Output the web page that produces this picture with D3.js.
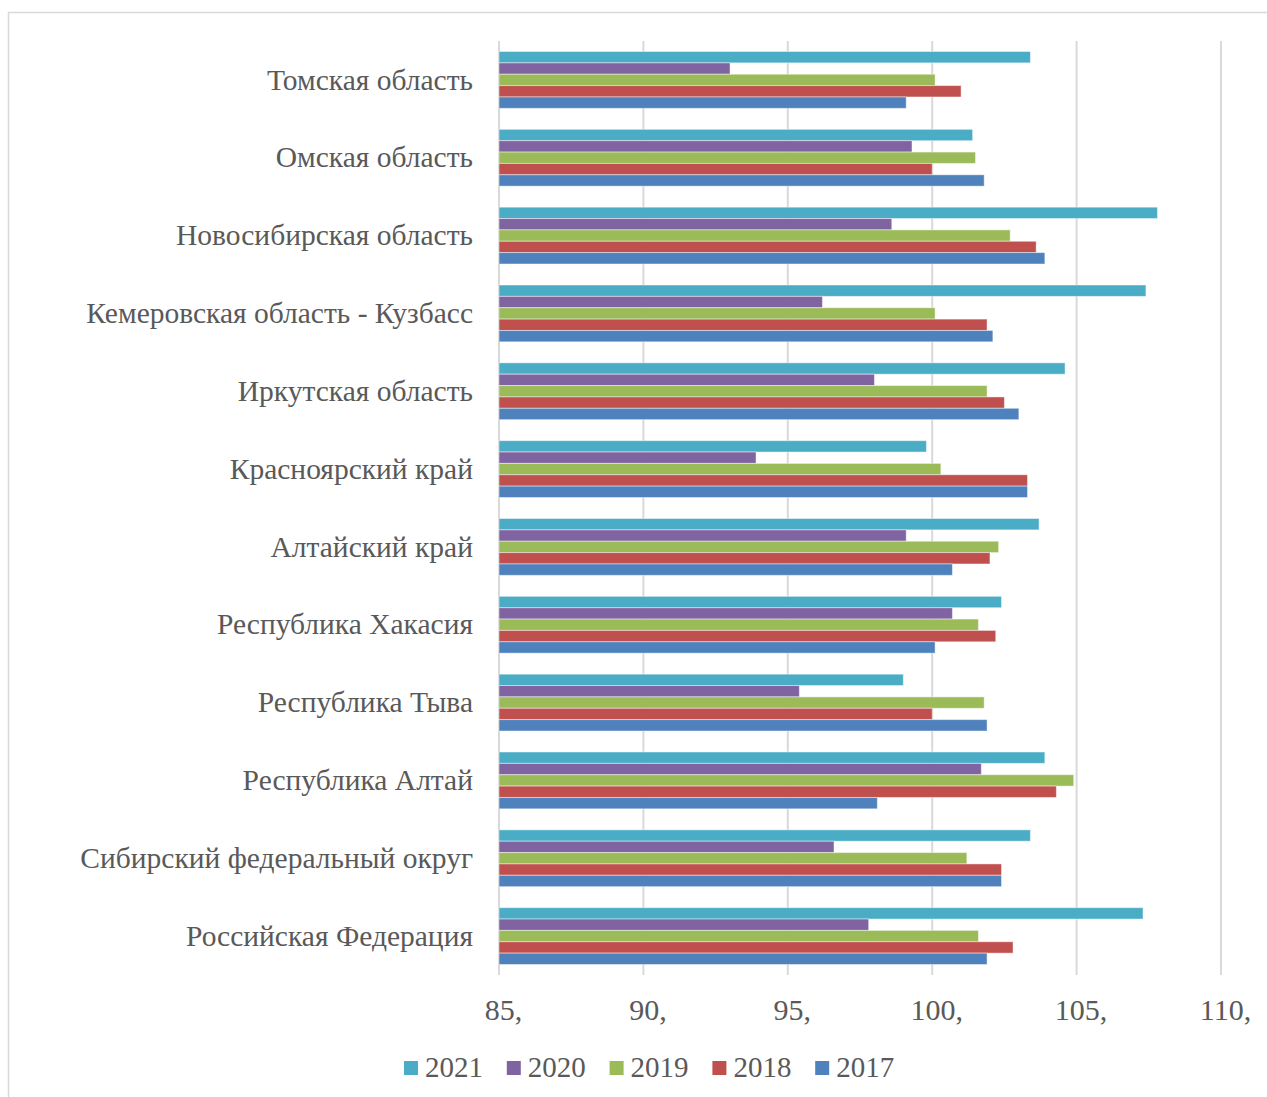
<!DOCTYPE html>
<html>
<head>
<meta charset="utf-8">
<script src="https://cdn.jsdelivr.net/npm/d3@7"></script>
<style>
  html, body { margin: 0; padding: 0; background: #fff; }
  svg { display: block; }
  text { font-family: "Liberation Serif", "Times New Roman", serif; fill: #595959; }
</style>
</head>
<body>
<svg id="chart" width="1267" height="1097"></svg>
<script>
// Regions, top to bottom
const regions = [
  "Томская область",
  "Омская область",
  "Новосибирская область",
  "Кемеровская область - Кузбасс",
  "Иркутская область",
  "Красноярский край",
  "Алтайский край",
  "Республика Хакасия",
  "Республика Тыва",
  "Республика Алтай",
  "Сибирский федеральный округ",
  "Российская Федерация"
];

// Years, in the order bars are stacked inside each group (top to bottom)
const years = ["2021", "2020", "2019", "2018", "2017"];

// Index values per year, aligned with regions
const values2021 = [103.4, 101.4, 107.8, 107.4, 104.6, 99.8, 103.7, 102.4, 99.0, 103.9, 103.4, 107.3];
const values2020 = [93.0, 99.3, 98.6, 96.2, 98.0, 93.9, 99.1, 100.7, 95.4, 101.7, 96.6, 97.8];
const values2019 = [100.1, 101.5, 102.7, 100.1, 101.9, 100.3, 102.3, 101.6, 101.8, 104.9, 101.2, 101.6];
const values2018 = [101.0, 100.0, 103.6, 101.9, 102.5, 103.3, 102.0, 102.2, 100.0, 104.3, 102.4, 102.8];
const values2017 = [99.1, 101.8, 103.9, 102.1, 103.0, 103.3, 100.7, 100.1, 101.9, 98.1, 102.4, 101.9];

const tickValues = [85, 90, 95, 100, 105, 110];
const tickLabels = ["85,", "90,", "95,", "100,", "105,", "110,"];

const seriesValues = {
  "2021": values2021, "2020": values2020, "2019": values2019,
  "2018": values2018, "2017": values2017
};
const colors = {
  "2021": "#4BACC6", "2020": "#8064A2", "2019": "#9BBB59",
  "2018": "#C0504D", "2017": "#4F81BD"
};

const svg = d3.select("#chart");

// Outer chart frame (open on the right and bottom edges of the page)
svg.append("rect")
  .attr("x", 8.5).attr("y", 12.5)
  .attr("width", 1300).attr("height", 1200)
  .attr("fill", "none").attr("stroke", "#d9d9d9").attr("stroke-width", 1.5);

const plot = { left: 499, right: 1221, top: 41, bottom: 975 };

const x = d3.scaleLinear().domain([85, 110]).range([plot.left, plot.right]);
const y = d3.scaleBand().domain(regions).range([plot.top, plot.bottom]).paddingInner(0.27).paddingOuter(0.135);
const yInner = d3.scaleBand().domain(years).range([0, y.bandwidth()]);

// Vertical gridlines
svg.append("g").selectAll("line")
  .data(tickValues)
  .join("line")
  .attr("x1", d => x(d)).attr("x2", d => x(d))
  .attr("y1", plot.top).attr("y2", plot.bottom)
  .attr("stroke", "#d9d9d9").attr("stroke-width", 2);

// Bars
const groups = svg.append("g").selectAll("g")
  .data(regions)
  .join("g")
  .attr("transform", d => `translate(0,${y(d)})`);

groups.selectAll("rect")
  .data((r, i) => years.map(yr => ({ year: yr, value: seriesValues[yr][i] })))
  .join("rect")
  .attr("x", x(85))
  .attr("y", d => yInner(d.year))
  .attr("width", d => x(d.value) - x(85))
  .attr("height", yInner.bandwidth())
  .attr("fill", d => colors[d.year])
  .attr("stroke", "rgba(255,255,255,0.45)")
  .attr("stroke-width", 1);

// Category labels
svg.append("g").selectAll("text")
  .data(regions)
  .join("text")
  .attr("x", 473)
  .attr("y", d => y(d) + y.bandwidth() / 2)
  .attr("dy", "0.33em")
  .attr("text-anchor", "end")
  .attr("font-size", 29.5)
  .text(d => d);

// X axis tick labels
const axis = d3.axisBottom(x).tickValues(tickValues)
  .tickFormat((d, i) => tickLabels[i]).tickSize(0).tickPadding(0);
const axisG = svg.append("g").attr("transform", `translate(0, 1020)`).call(axis);
axisG.select(".domain").remove();
axisG.selectAll("text")
  .attr("font-size", 30)
  .attr("font-family", "Liberation Serif, Times New Roman, serif")
  .attr("fill", "#595959")
  .attr("dy", 0)
  .attr("dx", 4);

// Legend
const legend = svg.append("g").selectAll("g")
  .data(years)
  .join("g")
  .attr("transform", (d, i) => `translate(${404 + i * 102.8}, 1061)`);
legend.append("rect")
  .attr("width", 14).attr("height", 14)
  .attr("fill", d => colors[d]);
legend.append("text")
  .attr("x", 21).attr("y", 16)
  .attr("font-size", 29)
  .text(d => d);
</script>
</body>
</html>
